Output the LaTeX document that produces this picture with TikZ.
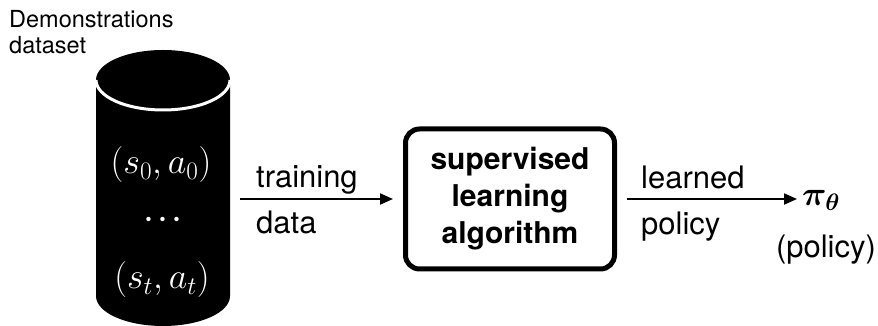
\RequirePackage{fix-cm}
\documentclass[tikz,border=0pt]{standalone}
\usepackage{fontspec}
\usepackage{bm}
\newfontfamily\hv{TeX Gyre Heros}
\usetikzlibrary{arrows.meta}
\begin{document}
\begin{tikzpicture}[x=1pt,y=1pt,
 lbl/.style={font=\hv\fontsize{31}{31}\selectfont, inner sep=0pt},
 box/.style={draw, line width=5pt, rounded corners=14pt, minimum width=209pt, minimum height=140pt, align=center, font=\hv\bfseries\fontsize{30}{37}\selectfont},
 arr/.style={line width=2pt, -{Triangle[length=13pt,width=11pt]}},
 mth/.style={text=white, font=\fontsize{36}{36}\selectfont, inner sep=0pt}]
\useasboundingbox (0,0) rectangle (878,326);
% cylinder
\fill (96,246) -- (96,30) arc[start angle=180,end angle=360,x radius=67,y radius=30] -- (230,246) arc[start angle=0,end angle=180,x radius=67,y radius=30] -- cycle;
\draw[white, line width=3pt] (96,246) arc[start angle=180,end angle=360,x radius=67,y radius=30];
\node[minimum width=134pt, minimum height=276pt, inner sep=0pt, outer sep=0pt] (db) at (163,138) {};
\node[mth] (p0) at (161,161) {$(s_0, a_0)$};
\node[mth, font=\fontsize{28}{28}\selectfont] (dots) at (163,106) {$\bm{\cdots}$};
\node[mth] (pt) at (162,46) {$(s_t, a_t)$};
\node[font=\hv\fontsize{23.5}{26}\selectfont, align=left, anchor=north west, inner sep=0pt] (title) at (9,316) {Demonstrations\\dataset};
% box
\node[box] (sla) at (510,127) {supervised\\learning\\algorithm};
% output
\node[font=\fontsize{34}{34}\selectfont, inner sep=0pt, anchor=west] (pi) at (802,126) {$\bm{\pi_\theta}$};
\node[lbl] (pol) at (826,76) {(policy)};
% arrows
\draw[arr] ([xshift=10pt]db.east |- sla.west) -- ([xshift=-10pt]sla.west);
\draw[arr] ([xshift=10pt]sla.east) -- ([xshift=-5pt]pi.west |- sla.east);
% labels
\node[lbl, anchor=base west] (l1) at (256,138) {training};
\node[lbl, anchor=base west] (l2) at (256,92) {data};
\node[lbl, anchor=base west] (l3) at (641,137) {learned};
\node[lbl, anchor=base west] (l4) at (641,91) {policy};
\end{tikzpicture}
\end{document}
